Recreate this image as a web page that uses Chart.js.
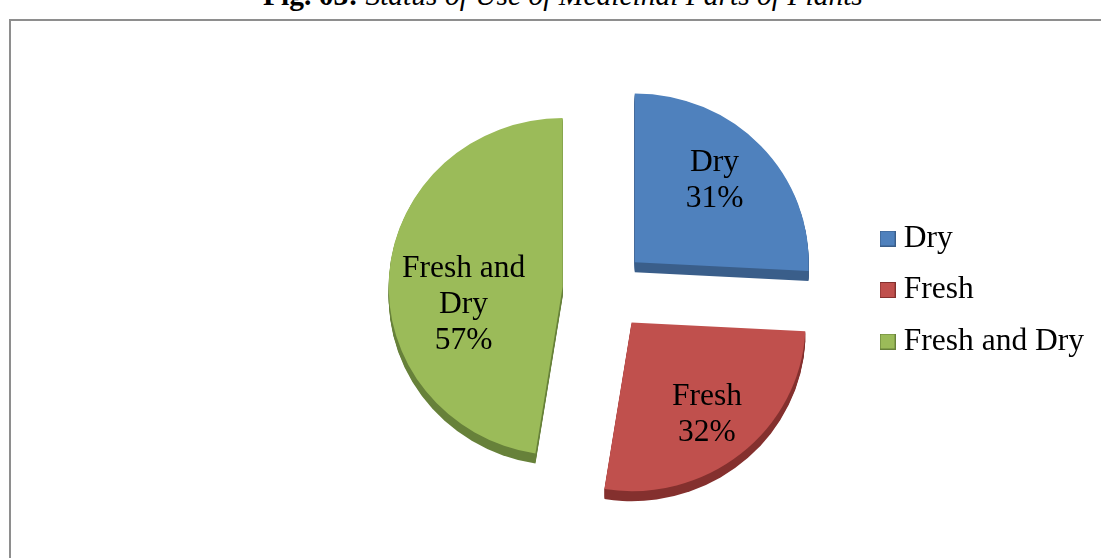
<!DOCTYPE html>
<html>
<head>
<meta charset="utf-8">
<script src="https://cdn.jsdelivr.net/npm/chart.js@4.4.1/dist/chart.umd.min.js"></script>
<style>
  html, body { margin: 0; padding: 0; background: #ffffff; overflow: hidden; }
  #wrap { position: relative; width: 1101px; height: 558px; overflow: hidden; background: #ffffff; }
  #caption {
    position: absolute; left: 263px; top: -19px; white-space: nowrap;
    font-family: 'Liberation Serif', 'Times New Roman', serif; font-size: 29.5px; line-height: 1; color: #000;
  }
  #frame {
    position: absolute; left: 9px; top: 19px; width: 1300px; height: 800px;
    border: 2px solid #8e8e8e; box-sizing: border-box;
  }
  #c { position: absolute; left: 0; top: 0; }
</style>
</head>
<body>
<div id="wrap">
  <div id="caption"><b>Fig. 03:</b> <i>Status of Use of Medicinal Parts of Plants</i></div>
  <div id="frame"></div>
  <canvas id="c" width="1101" height="558"></canvas>
</div>
<script>
// Status of use of medicinal plant parts
const categories = ['Dry', 'Fresh', 'Fresh and Dry'];
const sharePercent = [31, 32, 57];

// Face and side-wall colours of each slice
const faceColors = ['#4f81bd', '#c0504d', '#9bbb59'];
const wallColors = ['#3a5e8a', '#84302e', '#67813a'];

const serif = "'Liberation Serif', 'Times New Roman', serif";

// Small square swatches for the legend
function swatch(fill, stroke) {
  const c = document.createElement('canvas');
  c.width = 16; c.height = 16;
  const g = c.getContext('2d');
  g.fillStyle = fill;
  g.fillRect(0, 0, 16, 16);
  g.strokeStyle = stroke;
  g.lineWidth = 1;
  g.strokeRect(0.5, 0.5, 15, 15);
  return c;
}
const swatches = faceColors.map((c, i) => swatch(c, wallColors[i]));

// Geometry of one exploded slice (in the untilted pie plane)
function sliceGeom(arc, pull) {
  const p = arc.getProps(['x', 'y', 'startAngle', 'endAngle', 'outerRadius'], true);
  const mid = (p.startAngle + p.endAngle) / 2;
  return {
    x: p.x, y: p.y,
    cx: p.x + Math.cos(mid) * pull,
    cy: p.y + Math.sin(mid) * pull,
    dx: Math.cos(mid) * pull,
    dy: Math.sin(mid) * pull,
    start: p.startAngle, end: p.endAngle, mid, r: p.outerRadius
  };
}

// Tilts the pie plane about its centre (slight vertical squash)
function tilt(ctx, g, k) {
  ctx.translate(g.x, g.y);
  ctx.scale(1, k);
  ctx.translate(-g.x, -g.y);
}

// Draws every slice pulled out from the centre, with an extruded wall under it
const explodedPie = {
  id: 'explodedPie',
  beforeDatasetDraw(chart, args, opts) {
    const ctx = chart.ctx;
    const arcs = args.meta.data;
    arcs.forEach((arc, i) => {
      const g = sliceGeom(arc, opts.pull[i]);
      ctx.fillStyle = opts.wallColors[i];
      for (let j = 1; j <= opts.depth; j++) {
        ctx.save();
        ctx.translate(0, j);
        tilt(ctx, g, opts.tilt);
        ctx.beginPath();
        ctx.moveTo(g.cx, g.cy);
        ctx.arc(g.cx, g.cy, g.r, g.start, g.end);
        ctx.closePath();
        ctx.fill();
        ctx.restore();
      }
    });
    arcs.forEach((arc, i) => {
      const g = sliceGeom(arc, opts.pull[i]);
      ctx.save();
      tilt(ctx, g, opts.tilt);
      ctx.translate(g.dx, g.dy);
      arc.draw(ctx, chart.chartArea);
      ctx.restore();
    });
    return false;
  }
};

// Category name and percentage written inside each slice
const sliceLabels = {
  id: 'sliceLabels',
  afterDatasetsDraw(chart, args, opts) {
    const ctx = chart.ctx;
    const pie = chart.options.plugins.explodedPie;
    const meta = chart.getDatasetMeta(0);
    ctx.save();
    ctx.font = opts.size + 'px ' + serif;
    ctx.fillStyle = '#000';
    ctx.textAlign = 'center';
    ctx.textBaseline = 'alphabetic';
    meta.data.forEach((arc, i) => {
      const g = sliceGeom(arc, pie.pull[i]);
      const a = g.mid + opts.angleShift[i] * Math.PI / 180;
      const ux = g.cx + Math.cos(a) * g.r * opts.radial[i];
      const uy = g.cy + Math.sin(a) * g.r * opts.radial[i];
      const lx = ux;
      const ly = g.y + (uy - g.y) * pie.tilt;
      // wrap the category name
      const words = categories[i].split(' ');
      const lines = [];
      let cur = '';
      words.forEach(w => {
        const t = cur ? cur + ' ' + w : w;
        if (cur && ctx.measureText(t).width > opts.wrapWidth) { lines.push(cur); cur = w; }
        else cur = t;
      });
      lines.push(cur);
      lines.push(sharePercent[i] + '%');
      const first = ly - (lines.length - 1) * opts.lineHeight / 2 + opts.capHalf;
      lines.forEach((t, k) => ctx.fillText(t, lx, first + k * opts.lineHeight));
    });
    ctx.restore();
  }
};

const legendBase = Chart.overrides.pie.plugins.legend.labels.generateLabels;

new Chart(document.getElementById('c'), {
  type: 'pie',
  data: {
    labels: categories,
    datasets: [{
      data: sharePercent,
      backgroundColor: faceColors,
      borderWidth: 0,
      radius: 174
    }]
  },
  options: {
    responsive: false,
    animation: false,
    events: [],
    layout: { padding: { left: 342, right: 7, top: 32, bottom: 10 } },
    plugins: {
      tooltip: { enabled: false },
      title: { display: false },
      legend: {
        position: 'right',
        labels: {
          usePointStyle: true,
          pointStyleWidth: 1,
          padding: 20,
          color: '#000',
          font: { family: serif, size: 31.5 },
          generateLabels(chart) {
            return legendBase(chart).map((item, i) => Object.assign(item, { pointStyle: swatches[i] }));
          }
        }
      },
      explodedPie: { pull: [41.7, 43, 42], depth: 10, tilt: 0.97, wallColors: wallColors },
      sliceLabels: {
        size: 31.5, lineHeight: 36, capHalf: 10, wrapWidth: 135,
        radial: [0.671, 0.688, 0.577], angleShift: [-3.4, 0, -13.8]
      }
    }
  },
  plugins: [explodedPie, sliceLabels]
});
</script>
</body>
</html>
